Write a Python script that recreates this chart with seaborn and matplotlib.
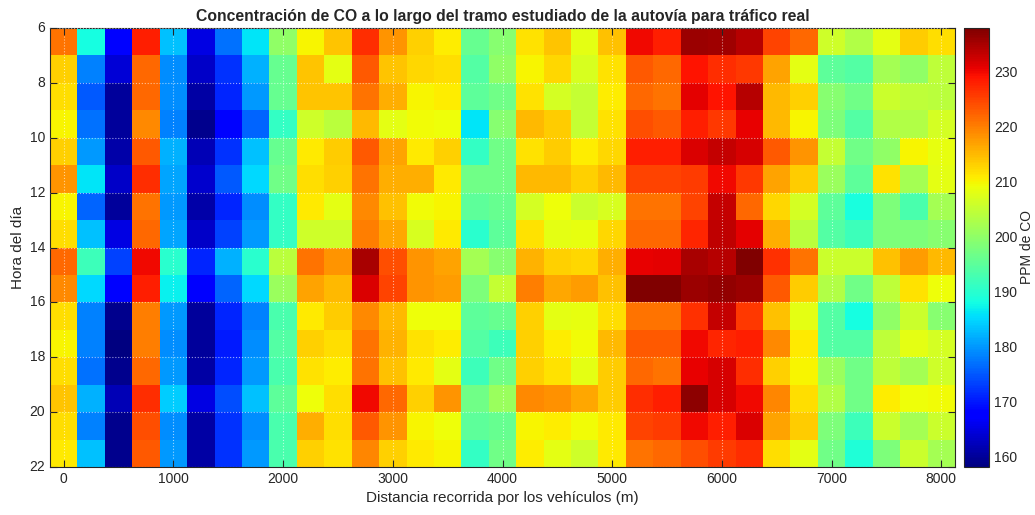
import matplotlib
matplotlib.use("Agg")
import matplotlib.pyplot as plt
import seaborn as sns
import pandas as pd

sns.set_style("ticks")
plt.rcParams['font.family'] = ['Liberation Sans', 'DejaVu Sans']

# distance (m) of each column and hour of each row
distancias = list(range(0, 8001, 250))
horas = list(range(6, 22))

# PPM de CO, one list per hour
h06 = [221, 188, 168, 228, 183, 165, 177, 186, 200, 210, 214, 227, 218, 213, 210.5, 196, 199, 211.5, 214, 208, 214.5, 230, 228, 236, 235.5, 234, 225, 222, 206, 203, 208, 213.5, 212]
h07 = [213, 178, 164, 222, 179, 163, 172, 182, 196, 214, 208, 223, 214, 212.5, 212, 194, 200, 210, 212.5, 207, 211.5, 223, 222, 229, 227, 226, 217, 208, 195, 194, 202, 200, 204.5]
h08 = [212, 175, 160, 222, 179, 160.5, 171, 180, 196, 214, 214, 221, 216, 210, 210.5, 195, 197, 211.5, 206.5, 205, 210.5, 222, 221, 231, 229, 234, 215, 213, 199, 197, 205.5, 204.5, 204]
h09 = [210, 177, 160, 219, 178, 159, 168, 176, 191, 206, 204, 215, 208, 209.5, 209, 186, 199, 215, 213.5, 205, 211.5, 224, 223, 228, 226, 230.5, 215, 210, 198, 194, 203, 203, 206.5]
h10 = [213, 180, 161, 223, 182, 162, 172, 183, 196, 211, 213.5, 223, 217, 211, 213, 191, 197, 211.5, 213.5, 210.5, 212.5, 228, 228, 231.5, 233, 232, 223, 218, 205, 197, 200, 210, 208.5]
h11 = [218, 186, 163, 227, 181, 163.5, 175, 185, 197, 212, 213, 221, 216, 216, 211, 197, 197, 215, 215, 213, 215, 225, 225, 225.5, 230, 226, 217, 213.5, 201, 195, 211.5, 202, 208]
h12 = [210, 176, 160, 221, 180, 161, 171, 179, 191, 211, 208, 219, 214.5, 209.5, 210, 195, 196, 206.5, 209, 205.5, 207, 221, 221, 225, 233, 222, 212.5, 206.5, 195, 188.5, 198, 193, 202]
h13 = [212, 183, 165, 222, 181, 163, 173, 180, 191, 206, 206, 220, 216.5, 207, 211, 190, 195, 211.5, 208, 208.5, 212.5, 222, 222, 227.5, 233.5, 231, 216, 204, 194, 192, 198, 198, 199]
h14 = [222, 192, 173, 230, 190, 171, 182, 190, 204, 221, 218, 235, 224, 218, 217, 202, 199, 215.5, 213, 212.5, 216, 230.5, 231, 235, 234, 238, 226.5, 221, 205.5, 205.5, 214.5, 217.5, 215]
h15 = [219, 185, 168, 228, 187, 167, 176, 185, 201, 217, 215, 231.5, 225, 218, 217.5, 198, 205, 220, 216.5, 217.5, 214.5, 238, 238, 236, 236.5, 236, 223, 213.5, 203, 197, 204.5, 211.5, 209]
h16 = [212, 178, 159, 220, 180, 160, 171, 178, 193, 211, 213.5, 219, 215, 209, 209, 195, 196, 213, 208, 208.5, 212, 221, 221, 226.5, 233, 226, 214.5, 208, 194, 188, 200, 205.5, 199]
h17 = [210, 178, 158, 220, 179, 160, 170, 179, 194, 213, 212, 221, 215.5, 211.5, 210.5, 194, 192, 213, 210.5, 209.5, 215, 223, 223, 230, 227.5, 228, 219, 211, 194, 194, 204.5, 208, 206.5]
h18 = [212, 177, 159, 222, 180, 160.5, 171, 180, 193, 211.5, 210.5, 221, 214.5, 211, 208, 192, 197, 213, 211.5, 208, 213.5, 222, 221, 230.5, 232, 227, 213, 210, 201, 197, 204.5, 202, 206]
h19 = [214, 182, 162, 227, 184, 165, 174, 183, 195, 209, 212, 230, 222, 213, 218, 197, 201, 219, 218.5, 216.5, 213.5, 227, 228, 237, 232, 230, 219.5, 212, 203, 197, 210.5, 209, 209.5]
h20 = [212, 178, 159, 224, 179, 160.5, 172, 179, 193, 216, 212, 223, 218, 210, 209, 195, 196, 210, 210.5, 209.5, 211, 225, 225.5, 230, 228, 231.5, 217, 213.5, 198, 192, 205.5, 202, 205.5]
h21 = [211, 183, 159, 223, 180, 160.5, 172, 180, 193, 213, 211.5, 219.5, 213, 211, 210, 191, 197, 210.5, 208, 206, 211, 221, 222, 224, 225.5, 227, 212, 208, 197, 189, 198, 205.5, 202]

tabla = pd.DataFrame([h06, h07, h08, h09, h10, h11, h12, h13, h14, h15, h16, h17, h18, h19, h20, h21],
                     index=horas, columns=distancias)

xticks = list(range(0, 8001, 1000))
yticks = list(range(6, 23, 2))
cticks = list(range(160, 231, 10))

fig = plt.figure(figsize=(10.35, 5.15), dpi=100)
ax = fig.add_axes([50 / 1035, 48 / 515, 905 / 1035, 439 / 515])
cax = fig.add_axes([964 / 1035, 48 / 515, 25 / 1035, 439 / 515])

sns.heatmap(tabla, cmap="jet", vmin=158, vmax=238, ax=ax, cbar_ax=cax,
            cbar_kws={"ticks": cticks})

# map distances / hours onto the heatmap cell grid
paso = distancias[1] - distancias[0]
ax.set_xticks([(d - distancias[0]) / paso + 0.5 for d in xticks])
ax.set_xticklabels([str(d) for d in xticks], rotation=0)
ax.set_yticks([h - horas[0] for h in yticks])
ax.set_yticklabels([str(h) for h in yticks], rotation=0)

for s in ax.spines.values():
    s.set_visible(True)
    s.set_color("#262626")
    s.set_linewidth(0.8)
ax.tick_params(direction="in", top=True, right=True, length=5, width=0.8,
               labelsize=10, colors="#262626", labelcolor="#262626")
ax.set_axisbelow(False)
ax.grid(True, linestyle=":", color="white", alpha=0.6, linewidth=0.8)

ax.set_title("Concentración de CO a lo largo del tramo estudiado de la autovía para tráfico real",
             fontsize=11.3, fontweight="bold", pad=5)
ax.set_xlabel("Distancia recorrida por los vehículos (m)", fontsize=11, labelpad=4, color="#262626")
ax.set_ylabel("Hora del día", fontsize=11, labelpad=3, color="#262626")

cbar = ax.collections[0].colorbar
cbar.outline.set_visible(True)
cbar.outline.set_linewidth(0.8)
cbar.outline.set_edgecolor("#262626")
cbar.ax.tick_params(direction="in", length=4, labelsize=10, colors="#262626")
cbar.set_label("PPM de CO", fontsize=10, color="#262626", labelpad=2)

fig.savefig("out.png", dpi=100)
